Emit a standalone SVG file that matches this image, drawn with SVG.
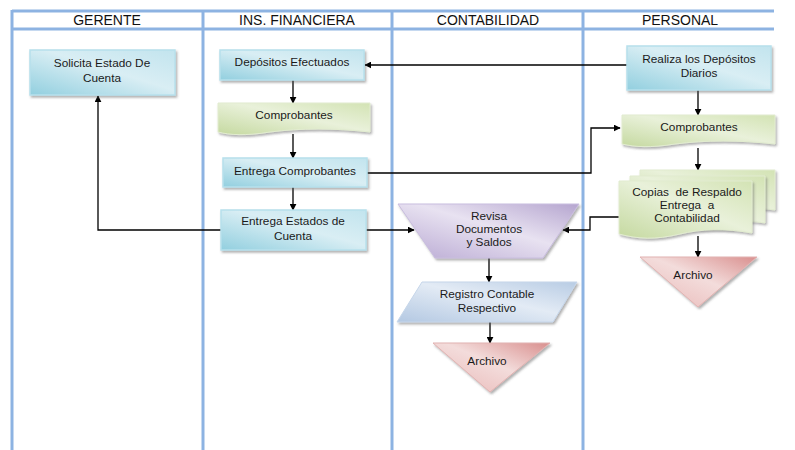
<svg xmlns="http://www.w3.org/2000/svg" width="795" height="450" viewBox="0 0 795 450">
  <style>
    .lane { stroke: #8db3e2; stroke-width: 3; fill: none; }
    .hdr { font-family: "Liberation Sans", Arial, sans-serif; font-size: 14px; fill: #111; text-anchor: middle; }
    .lbl { font-family: "Liberation Sans", Arial, sans-serif; font-size: 11.8px; fill: #1a1a1a; text-anchor: middle; white-space: pre; }
    .proc { fill: url(#gBlue); stroke: #b7e0ec; stroke-width: 1.5; filter: url(#sh); }
    .doc { fill: url(#gGreen); stroke: #e2ecd0; stroke-width: 1; filter: url(#sh); }
    .man { fill: url(#gPurple); stroke: #c9bedf; stroke-width: 1; filter: url(#sh); }
    .data { fill: url(#gSteel); stroke: #c6d6ea; stroke-width: 1; filter: url(#sh); }
    .arch { fill: url(#gRed); stroke: #e2b3b2; stroke-width: 1; filter: url(#sh); }
    .conn { stroke: #000; stroke-width: 1.3; fill: none; marker-end: url(#arr); }
  </style>
  <defs>
    <marker id="arr" viewBox="0 0 10 10" refX="9" refY="5" markerWidth="7" markerHeight="7" markerUnits="userSpaceOnUse" orient="auto">
      <path d="M0,0 L10,5 L0,10 z" fill="#000"/>
    </marker>
    <filter id="sh" x="-10%" y="-10%" width="125%" height="130%">
      <feDropShadow dx="1.5" dy="2" stdDeviation="0.8" flood-color="#555" flood-opacity="0.45"/>
    </filter>
    <linearGradient id="gBlue" x1="0" y1="1" x2="1" y2="0">
      <stop offset="0" stop-color="#92cfdf"/>
      <stop offset="0.55" stop-color="#d9eef4"/>
      <stop offset="1" stop-color="#c2e4ee"/>
    </linearGradient>
    <linearGradient id="gGreen" x1="0" y1="1" x2="1" y2="0">
      <stop offset="0" stop-color="#c5d9a0"/>
      <stop offset="0.55" stop-color="#e9f1da"/>
      <stop offset="1" stop-color="#d3e3b4"/>
    </linearGradient>
    <linearGradient id="gPurple" x1="0" y1="1" x2="1" y2="0">
      <stop offset="0" stop-color="#b9a9d3"/>
      <stop offset="0.55" stop-color="#e8e2f1"/>
      <stop offset="1" stop-color="#b5a5cf"/>
    </linearGradient>
    <linearGradient id="gSteel" x1="0" y1="1" x2="1" y2="0">
      <stop offset="0" stop-color="#b3c8e2"/>
      <stop offset="0.55" stop-color="#e3ebf5"/>
      <stop offset="1" stop-color="#b8cce4"/>
    </linearGradient>
    <linearGradient id="gRed" x1="0" y1="1" x2="1" y2="0">
      <stop offset="0" stop-color="#e8b6b5"/>
      <stop offset="0.55" stop-color="#f3dcdb"/>
      <stop offset="1" stop-color="#d98f8e"/>
    </linearGradient>
  </defs>

  <rect width="795" height="450" fill="#fff"/>

  <!-- swimlane grid -->
  <g id="lanes">
    <line class="lane" x1="12" y1="11" x2="774" y2="11"/>
    <line class="lane" x1="12" y1="29" x2="774" y2="29"/>
    <line class="lane" x1="12" y1="10" x2="12" y2="450"/>
    <line class="lane" x1="203" y1="10" x2="203" y2="450"/>
    <line class="lane" x1="392" y1="10" x2="392" y2="450"/>
    <line class="lane" x1="583" y1="10" x2="583" y2="450"/>
    <text class="hdr" x="107" y="25">GERENTE</text>
    <text class="hdr" x="297" y="25">INS. FINANCIERA</text>
    <text class="hdr" x="488" y="25">CONTABILIDAD</text>
    <text class="hdr" x="680" y="25">PERSONAL</text>
  </g>

  <!-- connectors -->
  <g id="connectors">
    <path class="conn" d="M627,65 H365"/>
    <path class="conn" d="M293,80 V103"/>
    <path class="conn" d="M293,134 V158"/>
    <path class="conn" d="M293,187 V210"/>
    <path class="conn" d="M367,173 H591 V128 H620"/>
    <path class="conn" d="M221,230 H98 V96"/>
    <path class="conn" d="M366,230 H414"/>
    <path class="conn" d="M619,217 H590 V230 H563"/>
    <path class="conn" d="M698,90 V115"/>
    <path class="conn" d="M698,148 V170"/>
    <path class="conn" d="M698,236 V257"/>
    <path class="conn" d="M489,258 V282"/>
    <path class="conn" d="M490,322 V343"/>
  </g>

  <g id="solicita">
    <rect class="proc" x="30" y="50" width="145" height="45"/>
    <text class="lbl" x="102" y="67">Solicita Estado De</text>
    <text class="lbl" x="102" y="82">Cuenta</text>
  </g>

  <g id="depositos">
    <rect class="proc" x="220" y="50" width="144" height="30"/>
    <text class="lbl" x="292" y="66">Depósitos Efectuados</text>
  </g>

  <g id="comprobantes-if">
    <path class="doc" d="M218,103 H370 V132 C335,128 300,128 270,132 C245,136 230,135 218,132 Z"/>
    <text class="lbl" x="294" y="119">Comprobantes</text>
  </g>

  <g id="entrega-comprobantes">
    <rect class="proc" x="223" y="158" width="144" height="29"/>
    <text class="lbl" x="295" y="175">Entrega Comprobantes</text>
  </g>

  <g id="entrega-estados">
    <rect class="proc" x="221" y="210" width="145" height="40"/>
    <text class="lbl" x="293" y="225">Entrega Estados de</text>
    <text class="lbl" x="293" y="240">Cuenta</text>
  </g>

  <g id="realiza">
    <rect class="proc" x="627" y="46" width="144" height="44"/>
    <text class="lbl" x="699" y="63">Realiza los Depósitos</text>
    <text class="lbl" x="699" y="77">Diarios</text>
  </g>

  <g id="comprobantes-p">
    <path class="doc" d="M622,115 H775 V144 C740,140 705,140 675,144 C650,148 635,147 622,144 Z"/>
    <text class="lbl" x="699" y="131">Comprobantes</text>
  </g>

  <g id="copias">
    <path class="doc" d="M640,170 H775 V210 C760,208 750,208 740,211 L740,215 H640 Z"/>
    <path class="doc" d="M630,176 H765 V223 C752,221 742,221 735,224 L735,228 H630 Z"/>
    <path class="doc" d="M619,181 H752 V233 C725,228 700,229 680,234 C655,240 638,239 619,234 Z"/>
    <text class="lbl" x="687" y="196">Copias  de Respaldo</text>
    <text class="lbl" x="687" y="209">Entrega  a</text>
    <text class="lbl" x="687" y="222">Contabilidad</text>
  </g>

  <g id="archivo-p">
    <path class="arch" d="M640,257 H757 L698,307 Z"/>
    <text class="lbl" x="693" y="279">Archivo</text>
  </g>

  <g id="revisa">
    <path class="man" d="M398,204 H579 L543,258 H435 Z"/>
    <text class="lbl" x="489" y="220">Revisa</text>
    <text class="lbl" x="489" y="233">Documentos</text>
    <text class="lbl" x="489" y="246">y Saldos</text>
  </g>

  <g id="registro">
    <path class="data" d="M422,282 H577 L553,322 H397 Z"/>
    <text class="lbl" x="487" y="298">Registro Contable</text>
    <text class="lbl" x="487" y="312">Respectivo</text>
  </g>

  <g id="archivo-c">
    <path class="arch" d="M433,343 H550 L490,392 Z"/>
    <text class="lbl" x="487" y="365">Archivo</text>
  </g>
</svg>
